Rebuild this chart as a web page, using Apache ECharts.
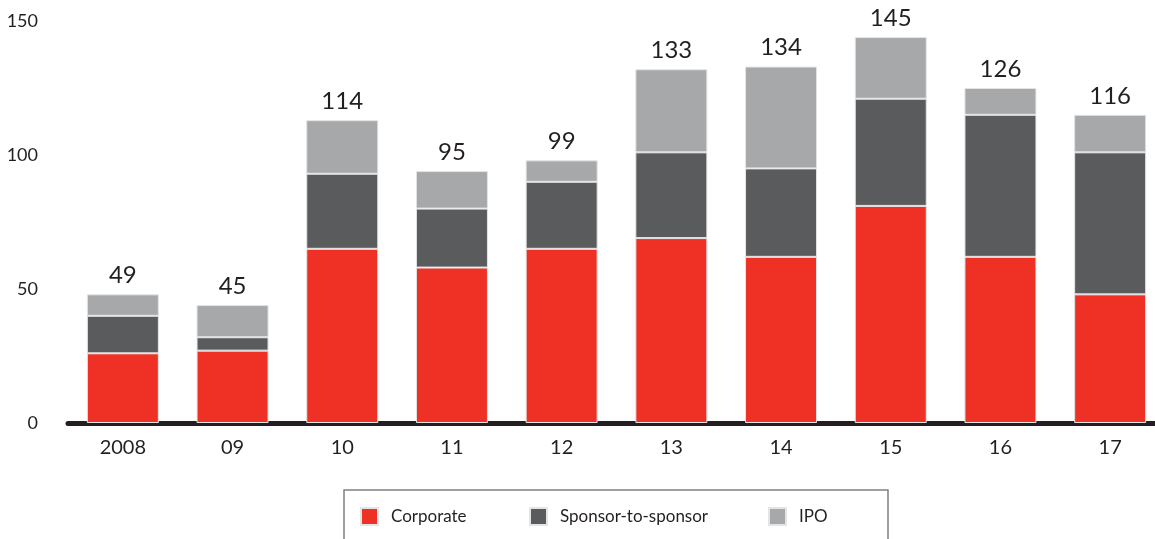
<!DOCTYPE html>
<html>
<head>
<meta charset="utf-8">
<script src="https://cdn.jsdelivr.net/npm/echarts@6/dist/echarts.min.js"></script>
<style>
  html, body { margin: 0; padding: 0; background: #fff; overflow: hidden; }
  #chart { width: 1165px; height: 539px; }
</style>
</head>
<body>
<div id="chart"></div>
<script>
const years = ["2008", "09", "10", "11", "12", "13", "14", "15", "16", "17"];
const corporate = [26, 27, 65, 58, 65, 69, 62, 81, 62, 48];
const sponsor = [14, 5, 28, 22, 25, 32, 33, 40, 53, 53];
const ipo = [8, 12, 20, 14, 8, 31, 38, 23, 10, 14];
const totals = [49, 45, 114, 95, 99, 133, 134, 145, 126, 116];
const yTicks = [0, 50, 100, 150];

const FONT = "Lato";
const colors = { Corporate: "#ee3124", "Sponsor-to-sponsor": "#5a5b5d", IPO: "#a7a8aa" };

// chart is a bit wider than the window so the last bar is clipped like the original
const chart = echarts.init(document.getElementById("chart"));

function legendFor(name, left) {
    return {
        data: [name],
        left: left,
        top: 507,
        icon: "rect",
        itemWidth: 17,
        itemHeight: 17,
        itemGap: 0,
        padding: 0,
        selectedMode: false,
        textStyle: { fontFamily: FONT, fontSize: 17, color: "#231f20", padding: [0, 0, 0, 8] },
    };
}

function barSeries(name, values) {
    return {
        name: name,
        type: "bar",
        stack: "total",
        data: values,
        barWidth: 72,
        itemStyle: { color: colors[name], borderColor: "#e4e4e4", borderWidth: 1 },
        emphasis: { disabled: true },
    };
}

const ipoSeries = barSeries("IPO", ipo);
ipoSeries.label = {
    show: true,
    position: "top",
    distance: 7,
    fontFamily: FONT,
    fontSize: 24,
    color: "#231f20",
    formatter: (p) => totals[p.dataIndex],
};

chart.setOption({
    animation: false,
    grid: { left: 68, right: 0, top: 21, bottom: 116 },
    legend: [
        legendFor("Corporate", 360),
        legendFor("Sponsor-to-sponsor", 529),
        legendFor("IPO", 768),
    ],
    graphic: [{
        type: "rect",
        shape: { x: 344, y: 490, width: 544, height: 60 },
        style: { fill: "none", stroke: "#808080", lineWidth: 1.5 },
    }],
    xAxis: {
        type: "category",
        data: years,
        axisLine: { lineStyle: { color: "#231f20", width: 5 } },
        axisTick: { show: false },
        axisLabel: { fontFamily: FONT, fontSize: 20, color: "#231f20", margin: 15 },
    },
    yAxis: {
        type: "value",
        min: yTicks[0],
        max: yTicks[yTicks.length - 1],
        interval: 50,
        splitLine: { show: false },
        axisLine: { show: false },
        axisTick: { show: false },
        axisLabel: { fontFamily: FONT, fontSize: 18, color: "#231f20", margin: 30 },
    },
    series: [
        barSeries("Corporate", corporate),
        barSeries("Sponsor-to-sponsor", sponsor),
        ipoSeries,
    ],
});
</script>
</body>
</html>
